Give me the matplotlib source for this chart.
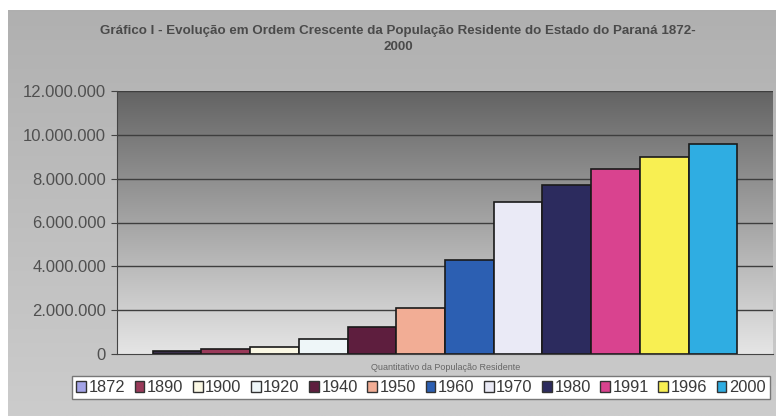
import matplotlib.pyplot as plt
import numpy as np
from matplotlib.patches import Patch
from matplotlib.ticker import FuncFormatter

plt.rcParams['font.family'] = ['Liberation Sans', 'DejaVu Sans']

# Censos do Paraná
anos = ['1872', '1890', '1900', '1920', '1940', '1950',
        '1960', '1970', '1980', '1991', '1996', '2000']
populacao = [126722, 249491, 327136, 685711, 1236276, 2115547,
             4277763, 6929868, 7700000, 8448713, 9003804, 9563458]
cores_barras = ['#3a2f4a', '#9a3a5a', '#fbf8e4', '#eef6f8', '#5e1e3e', '#f2ad95',
                '#2c5fb2', '#eaeaf6', '#2c2b5e', '#d9438f', '#f8ef52', '#2fade2']
cores_legenda = ['#a4a4e8'] + cores_barras[1:]
y_ticks = [0, 2e6, 4e6, 6e6, 8e6, 10e6, 12e6]

titulo = ('Gráfico I - Evolução em Ordem Crescente da População Residente '
          'do Estado do Paraná 1872-\n2000')
rotulo_x = 'Quantitativo da População Residente'


def fmt_milhar(v, pos):
    return '{:,.0f}'.format(v).replace(',', '.')


def gradiente(top, bottom, n=256):
    t = np.linspace(0, 1, n)[:, None]
    col = (1 - t) * np.array(top) + t * np.array(bottom)
    return np.repeat(col[:, None, :], 2, axis=1)


W, H = 776, 416
fig = plt.figure(figsize=(W / 100, H / 100), dpi=100)
fig.patch.set_facecolor('white')

# fundo cinza da área do gráfico
bg = fig.add_axes([8 / W, 0, 1 - 8 / W, 1 - 10 / H], zorder=-10)
bg.imshow(gradiente([0.69, 0.69, 0.69], [0.80, 0.80, 0.80]),
          aspect='auto', extent=[0, 1, 0, 1])
bg.set_axis_off()

ax = fig.add_axes([117 / W, 1 - 354 / H, (773 - 117) / W, (354 - 91) / H])
x = np.arange(len(anos))
xmin, xmax = -0.5 - 0.735, len(anos) - 0.5 + 0.735
ax.imshow(gradiente([0.39, 0.39, 0.39], [0.90, 0.90, 0.90]),
          aspect='auto', extent=[xmin, xmax, 0, 12e6], zorder=0)
for yv in y_ticks[1:]:
    ax.axhline(yv, color='#3e3e3e', lw=1.0, zorder=1)
ax.bar(x, populacao, width=1.0, color=cores_barras,
       edgecolor='#1a1a1a', linewidth=1.2, zorder=2)

ax.set_xlim(xmin, xmax)
ax.set_ylim(0, 12e6)
ax.set_yticks(y_ticks)
ax.yaxis.set_major_formatter(FuncFormatter(fmt_milhar))
ax.set_xticks([])
ax.tick_params(axis='y', length=4, color='#444444', labelcolor='#505050',
               labelsize=12, pad=4)
for s in ['top', 'right']:
    ax.spines[s].set_visible(False)
ax.spines['left'].set_color('#444444')
ax.spines['bottom'].set_color('#444444')

fig.text(398 / W, 1 - 39 / H, titulo, ha='center', va='center',
         fontsize=9.6, fontweight='bold', color='#4a4a4a', linespacing=1.45)
fig.text(446 / W, 1 - 368 / H, rotulo_x, ha='center', va='center',
         fontsize=6.5, color='#666666')

handles = [Patch(facecolor=c, edgecolor='#333333', linewidth=1.0)
           for c in cores_legenda]
leg = fig.legend(handles, anos, loc='upper left',
                 bbox_to_anchor=(72 / W, 1 - 376 / H), borderaxespad=0,
                 ncol=len(anos), fontsize=11.8, handlelength=0.6,
                 handleheight=0.6, handletextpad=0.15, columnspacing=0.58,
                 borderpad=0.25, frameon=True, fancybox=False,
                 labelcolor='#3a3a3a')
leg.get_frame().set_edgecolor('#777777')
leg.get_frame().set_facecolor('white')
leg.get_frame().set_alpha(1)

fig.savefig('out.png', dpi=100)
